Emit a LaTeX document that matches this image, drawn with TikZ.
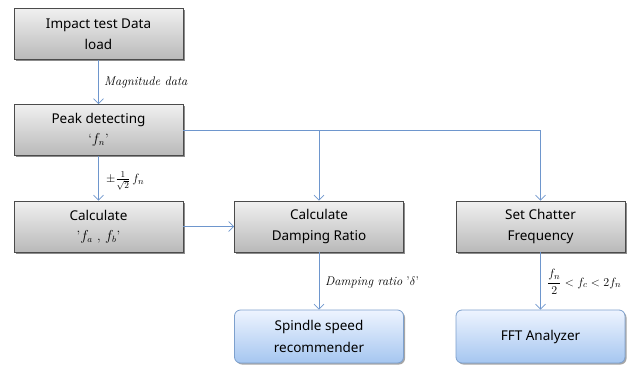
\documentclass[tikz,border=0pt]{standalone}
\usepackage{amsmath}
\usepackage{fontspec}
\newfontfamily\boxfont{Noto Sans}
\usetikzlibrary{arrows.meta,shadows,positioning}
\definecolor{linkblue}{RGB}{110,150,205}
\definecolor{grayedge}{RGB}{75,75,75}
\definecolor{graytop}{RGB}{240,240,240}
\definecolor{graybot}{RGB}{185,185,185}
\definecolor{bluetop}{RGB}{238,244,255}
\definecolor{bluebot}{RGB}{165,198,240}
\definecolor{blueedge}{RGB}{125,160,205}
\tikzset{
  procbox/.style={draw=grayedge, line width=0.8pt, top color=graytop, bottom color=graybot,
    minimum width=169pt, minimum height=51pt, align=center, inner sep=2pt,
    font=\boxfont\fontsize{13.5}{21}\selectfont,
    drop shadow={shadow xshift=1.5pt, shadow yshift=-1.5pt, opacity=0.45, fill=black}},
  outbox/.style={draw=blueedge, line width=0.8pt, top color=bluetop, bottom color=bluebot,
    rounded corners=6pt, minimum width=169pt, minimum height=53pt, align=center, inner sep=2pt,
    font=\boxfont\fontsize{13.5}{22}\selectfont,
    drop shadow={shadow xshift=1.5pt, shadow yshift=-1.5pt, opacity=0.35, fill=black}},
  link/.style={draw=linkblue, line width=0.7pt, -{Straight Barb[length=5pt,width=10pt,line width=0.7pt]}},
  tag/.style={anchor=west, inner sep=0pt, font=\fontsize{12.5}{14}\selectfont}
}
\begin{document}
\begin{tikzpicture}[x=1pt,y=-1pt]
  \useasboundingbox (0,0) rectangle (633,365);

  % process boxes
  \node[procbox] (load)  at (98.5,34)    {Impact test Data\\load};
  \node[procbox] (peak)  at (98.5,130)   {Peak detecting\\[-1pt]{\normalfont `$f_n$'}};
  \node[procbox] (fab)   at (98.5,226.5) {Calculate\\[-1pt]{\normalfont '$f_a$ , $f_b$'}};
  \node[procbox] (damp)  at (319,226.5)  {Calculate\\Damping Ratio};
  \node[procbox] (chat)  at (540.5,226.5){Set Chatter\\Frequency};

  % output boxes
  \node[outbox] (spin) at (319,336.5)   {Spindle speed\\recommender};
  \node[outbox] (fft)  at (540.5,336.5) {FFT Analyzer};

  % connectors
  \coordinate (branch) at (319,130);
  \draw[link] (load) -- (peak);
  \draw[link] (peak) -- (fab);
  \draw[link] (fab) -- (damp);
  \draw[link] (peak.east) -| (chat.north);
  \draw[link] (branch) -- (damp.north);
  \draw[link] (damp) -- (spin);
  \draw[link] (chat) -- (fft);

  % connector labels
  \node[tag] (lmag)  at (104,82)  {\textit{Magnitude data}};
  \node[tag] (lfrac) at (106,181) {$\pm\frac{1}{\sqrt{2}}\,f_n$};
  \node[tag] (ldamp) at (325,282) {\textit{Damping ratio} '$\delta$'};
  \node[tag] (lchat) at (547,282) {$\dfrac{f_n}{2} < f_c < 2f_n$};
\end{tikzpicture}
\end{document}
